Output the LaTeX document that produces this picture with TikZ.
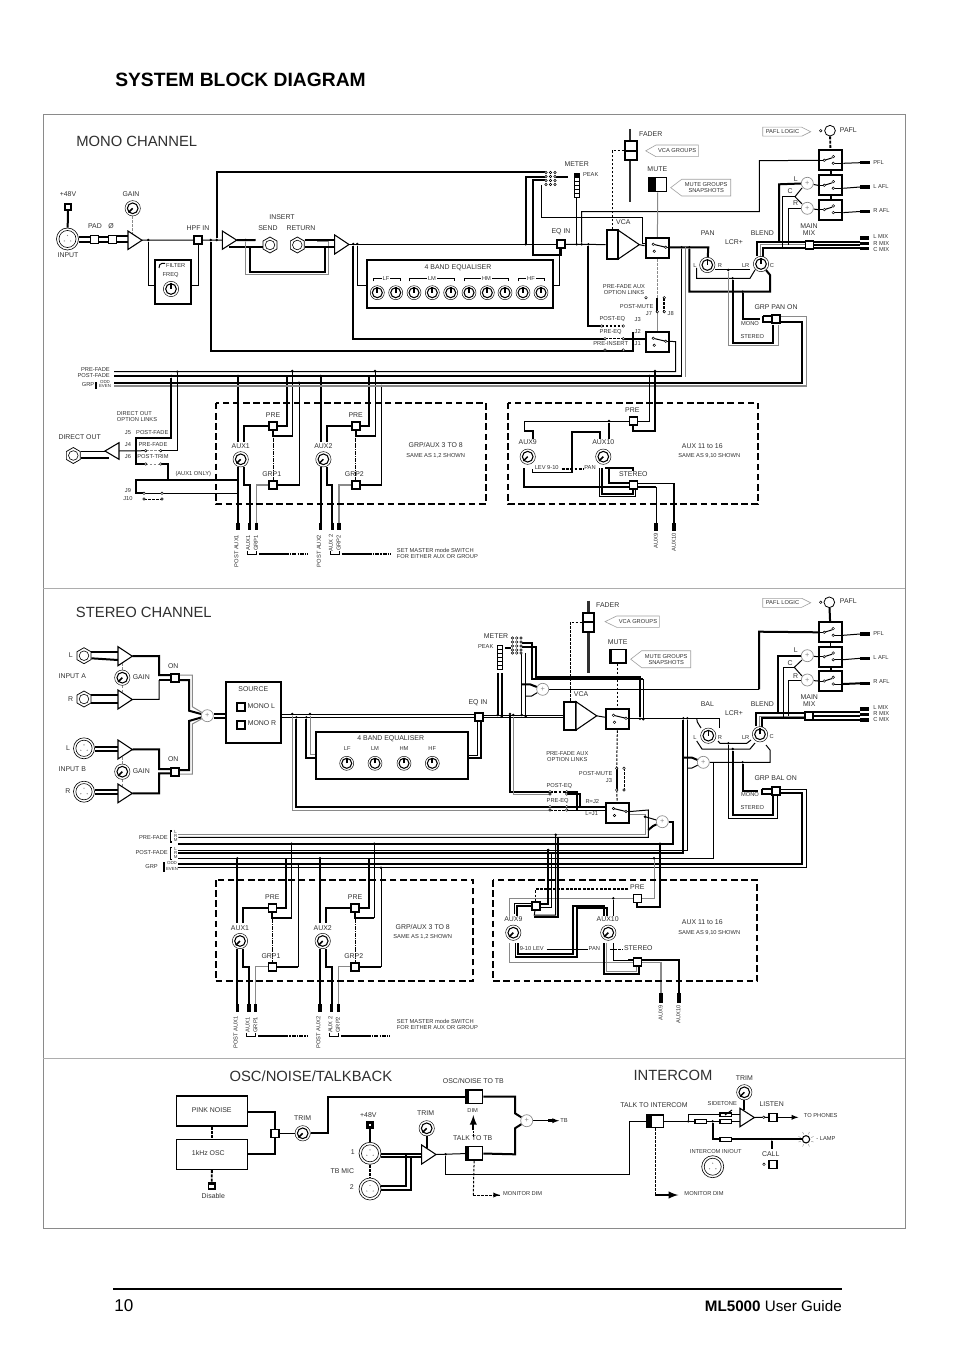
\documentclass[tikz,border=0pt]{standalone}
\usepackage{fontspec}
\setmainfont{Liberation Sans}
\usetikzlibrary{shapes.geometric,backgrounds,calc}
\newcounter{nn}
\definecolor{ink}{HTML}{303030}
\definecolor{wgrey}{HTML}{8A8A8A}
\tikzset{
 wt/.style={line width=1.5pt,line join=miter,line cap=butt},
 wm/.style={line width=.75pt,line join=miter},
 wn/.style={line width=.5pt,line join=miter},
 wg/.style={line width=.75pt,draw=wgrey,line join=miter},
 dsh/.style={line width=.75pt,dash pattern=on 2pt off 1pt},
 dshg/.style={line width=.6pt,draw=wgrey,dash pattern=on 2pt off 1pt},
 dsht/.style={line width=1.4pt,dash pattern=on 2.2pt off 1pt},
 box/.style={line width=1.5pt,dash pattern=on 5pt off 2.6pt},
 endj/.style={line width=2.6pt,line cap=butt},
 txs/.style={inner sep=0,text=ink,font=\fontsize{4.3}{4.7}\selectfont,align=center},
 txm/.style={inner sep=0,text=ink,font=\fontsize{5.2}{5.7}\selectfont,align=center},
 txt/.style={inner sep=0,text=ink,font=\fontsize{3.3}{3.6}\selectfont,align=center},
 txb/.style={inner sep=0,text=ink,font=\fontsize{11.1}{12}\selectfont},
 sqbtn/.style={draw,fill=white,line width=1.2pt,minimum size=6pt,inner sep=0},
 kout/.style={circle,draw,fill=white,line width=.35pt,minimum size=11.5pt,inner sep=0},
 kin/.style={circle,draw,line width=.8pt,minimum size=8pt,inner sep=0},
 sumr/.style={circle,draw=wgrey,fill=white,line width=.5pt,minimum size=9pt,inner sep=0,text=wgrey,font=\fontsize{5.5}{5.5}\selectfont},
 jd/.style={circle,fill=black,minimum size=2pt,inner sep=0},
 swbx/.style={draw,fill=white,line width=1.5pt,minimum width=17.5pt,minimum height=15pt,inner sep=0},
 pent/.style={draw=wgrey!80,line width=.45pt},
 blk/.style={draw,fill=white,line width=1.5pt,inner sep=0},
 res/.style={draw,fill=white,line width=1pt,minimum width=8.5pt,minimum height=2.8pt,inner sep=0},
}
% labels
\newcommand\Ls[3][]{\stepcounter{nn}\node[txs,#1] (l\arabic{nn}) at (#2) {#3};}
\newcommand\Lm[3][]{\stepcounter{nn}\node[txm,#1] (l\arabic{nn}) at (#2) {#3};}
\newcommand\Lt[3][]{\stepcounter{nn}\node[txt,#1] (l\arabic{nn}) at (#2) {#3};}
\newcommand\Lb[3][]{\stepcounter{nn}\node[txb,#1] (l\arabic{nn}) at (#2) {#3};}
% parts
\newcommand\SQ[2]{\node[sqbtn] (#1) at (#2) {};}
\newcommand\JD[2]{\node[jd] (#1) at (#2) {};}
\newcommand\KN[3]{\node[kout] (#1) at (#2) {};\node[kin] (#1i) at (#2) {};\draw[line width=1.1pt] (#1i.center) -- (#1i.#3);}
\newcommand\EK[3]{\node[kout,minimum size=10.5pt] (#1) at (#2) {};\node[kin,minimum size=7.5pt] (#1i) at (#2) {};\draw[line width=1.6pt] (#1i.center) -- (#1i.#3);}
\newcommand\XLR[3]{\node[circle,draw,fill=white,line width=.45pt,minimum size=#3*.75pt,inner sep=0] (#1) at (#2) {};
 \node[circle,draw,line width=.45pt,minimum size=#3*.58pt,inner sep=0] (#1i) at (#2) {};
 \fill[wgrey] ($(#1)+(0,-3.5)$) circle [radius=.7] ($(#1)+(-3.2,2)$) circle [radius=.7] ($(#1)+(3.2,2)$) circle [radius=.7];}
\newcommand\JK[2]{\node[regular polygon,regular polygon sides=6,regular polygon rotate=30,draw,fill=white,line width=.55pt,minimum size=12pt,inner sep=0] (#1) at (#2) {};
 \node[circle,draw,line width=.45pt,minimum size=7.2pt,inner sep=0] (#1i) at (#2) {};}
\newcommand\AMP[5]{\draw[line width=.8pt,fill=white,line join=miter] (#2,#3) -- (#2,#4) -- (#5,{(#3+#4)/2}) -- cycle;
 \coordinate (#1) at (#5,{(#3+#4)/2}); \coordinate (#1-in) at (#2,{(#3+#4)/2});}
\newcommand\OC[1]{\draw[line width=.35pt,fill=white] (#1) circle [radius=1.3];}
\newcommand\SWA[2]{\node[swbx] (#1) at (#2) {};
 \coordinate (#1-a) at ($(#1)+(-4,-4)$); \coordinate (#1-b) at ($(#1)+(-3,3)$); \coordinate (#1-o) at ($(#1)+(8.5,-1)$);
 \draw[wm] (#1-a) -- (#1-o); \draw[wm] (#1-o) -- (#1.east |- #1-o);\coordinate (#1-out) at (#1.east |- #1-o);
 \OC{#1-a}\OC{#1-b}\OC{#1-o}}
\newcommand\SWB[2]{\node[swbx] (#1) at (#2) {};
 \coordinate (#1-i) at ($(#1)+(-6.3,0)$); \coordinate (#1-u) at ($(#1)+(2.7,-3.7)$); \coordinate (#1-l) at ($(#1)+(2.7,3)$);
 \draw[wm] (#1-i) -- ++(8,-2.5); \draw[wm] (#1-l) -- (#1.east |- #1-l); \draw[wm] (#1-i) -- (#1.west |- #1-i);
 \coordinate (#1-out) at (#1.east |- #1-l);\coordinate (#1-in) at (#1.west |- #1-i);
 \OC{#1-i}\OC{#1-u}\OC{#1-l}}
\newcommand\BTN[5]{\node[draw,fill=white,line width=1.2pt,minimum width=#3*.75pt,minimum height=#4*.75pt,inner sep=0] (#1) at (#2) {};
 \fill ($(#1.north west)$) rectangle ($(#1.south west)+(#5,0)$);}
\newcommand\PL[7]{\draw[pent] (#2,{(#5+#6)/2}) -- (#3,#5) -- (#4,#5) -- (#4,#6) -- (#3,#6) -- cycle;
 \Ls{{(#3+#4)/2},{(#5+#6)/2}}{#7}\coordinate (#1) at (#2,{(#5+#6)/2});}
\newcommand\PR[2]{\draw[pent] (762.7,#1-4.5) -- (801.7,#1-4.5) -- (810.7,#1) -- (801.7,#1+4.5) -- (762.7,#1+4.5) -- cycle;
 \Ls{782.5,#1}{PAFL LOGIC}}
% aux strip (local coordinates of mono AUX1)
\newcommand\STRIP[8]{\begin{scope}[shift={(#2,#3)}]
 \KN{#1k}{240.7,459.3}{225}\Lm{240.7,446}{AUX#7}
 \SQ{#1p}{273,426}\Lm{273,415}{PRE}
 \SQ{#1g}{273,485}\Lm{271.7,474.3}{GRP#7}
 \Ls[rotate=90]{236.3,551}{POST AUX#7}\Ls[rotate=90]{248.3,543}{#8}\Ls[rotate=90]{256,543}{GRP#7}
 \coordinate (#1t1) at (238,441.5);\coordinate (#1t2) at (244,441.5);
 \begin{scope}[on background layer]
 \draw[wt] (238,#4) -- (#1t1);
 \JD{#1a}{238,#4}
 \draw[wt] (#1p) -- (244,426) -- (#1t2);
 \draw[wt] (#1p) -- (286.7,426) -- (286.7,#4);
 \draw[wt] (#1p.south) -- (273,436) -- (292.3,436);
 \draw[wm] (292.3,436.5) -- (292.3,#5);\JD{#1b}{292.3,#5}
 \draw[dsh,dash pattern=on 3pt off .7pt on .7pt off .7pt] (#1p) -- (#1g);
 \draw[wt] (#1g) -- (299,485);\draw[wm] (299,485.5) -- (299,#6);\JD{#1c}{299,#6}
 \draw[wg,line width=1pt] (#1g) -- (256.3,485) -- (256.3,526);
 \draw[wt] (#1k.south -| 244,0) -- (244,485) -- (249.7,485) -- (249.7,526);
 \draw[wt] (#1k.south -| 238,0) -- (238,526);
 \end{scope}
 \draw[endj] (238,522.7) -- (238,530);\draw[endj] (249.7,522.7) -- (249.7,530);\draw[endj] (256.3,522.7) -- (256.3,530);
 \draw[wm] (247.3,551) -- (247.3,554.3) -- (256.3,554.3) -- (256.3,551);
 \draw[wt] (259,554.3) -- (285,554.3);
 \draw[wt,dash pattern=on 3pt off .8pt on 1pt off .8pt] (285,554.3) -- (308,554.3);
\end{scope}}
\begin{document}
\begin{tikzpicture}[x=.75pt,y=-.75pt]
\useasboundingbox (0,0) rectangle (954,1351);
\begin{scope}[on background layer]
\fill[white] (0,0) rectangle (954,1351);
\draw[line width=.5pt,draw=wgrey] (43,114) rectangle (905,1228);
\draw[line width=.5pt,draw=wgrey!70] (43,588) -- (905,588) (43,1058) -- (905,1058);
\end{scope}
\stepcounter{nn}\node[anchor=west,inner sep=0,font=\fontsize{14.45}{15}\selectfont\bfseries] (title) at (115,80) {SYSTEM BLOCK DIAGRAM};
\draw[line width=1.3pt] (113,1289) -- (842,1289);
\node[anchor=west,inner sep=0,font=\fontsize{12.8}{13}\selectfont] (pg) at (114,1306) {10};
\node[anchor=east,inner sep=0,font=\fontsize{11.4}{12}\selectfont] (ug) at (842,1306) {\textbf{ML5000} User Guide};
\Lb[anchor=west]{76,141}{MONO CHANNEL}
\Lb[anchor=west]{75.7,612.3}{STEREO CHANNEL}
\Lb[anchor=west]{229.3,1075.7}{OSC/NOISE/TALKBACK}
\Lb[anchor=west]{633.3,1075.7}{INTERCOM}

%================= MONO ==================
\Lm{68,194}{+48V}\node[draw,fill=white,line width=1.3pt,minimum size=5pt,inner sep=0] (m48) at (68,207) {};
\XLR{mxlr}{67.5,239}{22}\Lm{68,255}{INPUT}
\SQ{mpad}{94.5,239.5}\Lm{95,226}{PAD}\SQ{mph}{112.5,239.5}\Lm{111,226}{Ø}
\AMP{mamp}{128}{231}{249.5}{142}
\KN{mgain}{132.7,208.3}{225}\Lm{131,194}{GAIN}
\SQ{mhpf}{198,240}\Lm{198,228}{HPF IN}
\node[blk,minimum width=26.8pt,minimum height=33pt] (mfilt) at (173,282) {};
\Ls{175.7,265.3}{FILTER}\Ls{170.7,275}{FREQ}\KN{mfreq}{171,289}{90}
\AMP{mamp2}{222.3}{231}{249.3}{236.7}
\JK{msend}{270,245}\JK{mret}{297.3,245}
\Lm{282,217}{INSERT}\Lm{268,228}{SEND}\Lm{301,228}{RETURN}
\AMP{mamp3}{334.7}{235}{254}{349}
\node[blk,minimum width=140pt,minimum height=36pt] (meq) at (460,284) {};
\Lm{458,268}{4 BAND EQUALISER}
\Ls{386,279}{LF}\Ls{432,279}{LM}\Ls{486.5,279}{HM}\Ls{531,279}{HF}
\foreach \i/\x in {1/377.3,2/395.7,3/414,4/432.3,5/450.7,6/469,7/487.3,8/505,9/523,10/541}{\EK{mek\i}{\x,292.7}{90}}
\draw[wm] (373,281.5) -- (373,279) -- (382,279) (390,279) -- (400,279) -- (400,281.5)
 (409.7,281.5) -- (409.7,279) -- (427,279) (437,279) -- (454.7,279) -- (454.7,281.5)
 (464.7,281.5) -- (464.7,279) -- (481,279) (492,279) -- (508.3,279) -- (508.3,281.5)
 (518,281.5) -- (518,279) -- (526,279) (536,279) -- (544,279) -- (544,281.5);
\SQ{meqin}{561,244.3}\Lm{561,231.7}{EQ IN}
% meter
\node[inner sep=0,minimum width=8.5pt,minimum height=10.5pt] (mmx) at (550.5,178.7) {};
\foreach \yy in {172.5,176.5,180.5,184.5}{\foreach \xx in {546,550.5,555}{\OC{\xx,\yy}}}
\Lm{576.7,164.3}{METER}\Ls{590.7,174.3}{PEAK}
\node[draw,fill=white,line width=.8pt,minimum width=3.8pt,minimum height=18pt,inner sep=0] (mled) at (576.7,185.3) {};
\foreach \yy in {177.3,181.3,185.3,189.3,193.3}{\draw[wm] (574.3,\yy) -- (579.1,\yy);}
\fill (574.3,173.3) rectangle (579.1,177.3);
% VCA
\node[blk,minimum width=8.7pt,minimum height=21.5pt] (mvca) at (612.5,244.6) {};
\AMP{mvcat}{618.3}{230.3}{259}{639.3}\Lm{623.3,222.3}{VCA}
\draw[line width=2.2pt,draw=ink] (630,129) -- (630,201.7);
\node[blk,minimum width=8.5pt,minimum height=14.5pt] (mfad) at (631,150.7) {};
\draw[wt] (mfad.west) -- (mfad.east);
\Lm{650.7,134.3}{FADER}
\PL{mvg}{645.7}{656}{698.3}{145}{156.7}{VCA GROUPS}
\Lm{657.3,169.3}{MUTE}\BTN{mmute}{657.8,184.7}{17.6}{14}{8}
\PL{mmg}{670.7}{681.7}{730.7}{179.3}{196}{MUTE GROUPS\\SNAPSHOTS}
\SWA{msw1}{657.3,248.3}\SWA{msw2}{657.3,342.3}
\Lm{707.7,233.3}{PAN}\Lm{734,241.7}{LCR+}\Lm{762.3,233.3}{BLEND}
\KN{mpan}{707.3,265}{90}\KN{mbl}{761,264}{90}
\Ls{695,265.7}{L}\Ls{720,265.7}{R}\Ls{745.7,265.7}{LR}\Ls{772,265.7}{C}
\SQ{mgpan}{775.7,319.3}\Lm{776,307.3}{GRP PAN ON}\Ls{750,323.7}{MONO}\Ls{752.3,336.7}{STEREO}
\SQ{mmix}{809.3,245}\Lm{809,229.5}{MAIN\\MIX}
\SWB{mpfl}{830.6,160.3}\SWB{mlafl}{830.6,185.3}\SWB{mrafl}{830.6,209.6}
\node[circle,draw,line width=.6pt,minimum size=8pt,inner sep=0] (mpafl) at (830,130.7) {};\OC{820.7,130.7}
\Lm{848.3,130}{PAFL}\PR{131.7}{}
\node[sumr] (msl) at (807.3,183.3) {+};\node[sumr] (msr) at (807.3,208.3) {+};
\Lm{795.7,179}{L}\Lm{790,191}{C}\Lm{795.7,203.3}{R}
\Ls[anchor=west]{873,162.3}{PFL}\Ls[anchor=west]{873,186.7}{L AFL}\Ls[anchor=west]{873,211}{R AFL}
\Ls[anchor=west]{873,236.7}{L MIX}\Ls[anchor=west]{873,243.3}{R MIX}\Ls[anchor=west]{873,249.3}{C MIX}
\Ls{624,289.5}{PRE-FADE AUX\\OPTION LINKS}\Ls{636.7,306.7}{POST-MUTE}
\Ls{649,314}{J7}\Ls{670.7,314}{J8}\Ls{612.3,319.3}{POST-EQ}\Ls{637.7,319.3}{J3}
\Ls{610.7,331.7}{PRE-EQ}\Ls{637.7,331.7}{J2}\Ls{610.7,344}{PRE-INSERT}\Ls{637.7,343.3}{J1}
\Ls[anchor=east]{110,369.3}{PRE-FADE}\Ls[anchor=east]{110,375.7}{POST-FADE}\Ls[anchor=east]{94.5,385}{GRP}
\Lt{105,382}{ODD}\Lt{105,386}{EVEN}
\Ls[anchor=west]{116.7,416.3}{\parbox{40pt}{DIRECT OUT\\OPTION LINKS}}
\Lm{79.7,437.3}{DIRECT OUT}
\Ls{128,432.3}{J5}\Ls{152.3,432.3}{POST-FADE}\Ls{128,445}{J4}\Ls{153,445}{PRE-FADE}
\Ls{128,456.7}{J6}\Ls{153,456.7}{POST-TRIM}\Ls{128,491}{J9}\Ls{128,499}{J10}\Ls{193.3,474}{(AUX1 ONLY)}
\JK{mdir}{73.3,455.5}\AMP{mda}{119}{442.7}{459.3}{105}
\Lm{435.7,445}{GRP/AUX 3 TO 8}\Ls{435.7,455.7}{SAME AS 1,2 SHOWN}
\Ls[anchor=west]{396.7,553.3}{\parbox{90pt}{SET MASTER mode SWITCH\\FOR EITHER AUX OR GROUP}}
\STRIP{ma}{0}{0}{376}{371}{382.7}{1}{AUX1}
\STRIP{mb}{82.7}{0}{376}{371}{386}{2}{AUX 2}
\draw[box] (215.7,402.7) rectangle (485.7,504.3);
\draw[box] (508.3,402.7) rectangle (757.7,504.3);
% aux 9/10
\Lm{632.3,410}{PRE}\SQ{mpre9}{633.3,421}
\KN{mk9}{527.7,456.7}{225}\Lm{527.7,442.3}{AUX9}\KN{mk10}{603.3,456.7}{225}\Lm{603.3,442.3}{AUX10}
\Ls{546.7,467.7}{LEV 9-10}\Ls{590,467.7}{PAN}\Lm{633.3,474.3}{STEREO}\SQ{mst}{633.3,485}
\Ls[rotate=90]{656,541}{AUX9}\Ls[rotate=90]{674,542.7}{AUX10}
\Lm{702.3,445.7}{AUX 11 to 16}\Ls{709.3,455.7}{SAME AS 9,10 SHOWN}
\draw[endj] (656,523) -- (656,531) (674,523) -- (674,531);
\draw[endj] (860,162.7) -- (870,162.7) (860,187) -- (870,187) (860,211.5) -- (870,211.5);
\draw[endj] (860,238) -- (869,238) (860,243.5) -- (869,243.5) (860,248.5) -- (869,248.5);
\OC{646,297.7}\OC{664.3,297.7}\OC{657.3,311.7}\OC{664.3,311.7}
\OC{601.7,326}\OC{623.3,326}\OC{605,338.7}\OC{623.3,338.7}\OC{605,350}\OC{623.3,350}
\OC{144,493.3}\OC{162,493.3}\OC{144,499}\OC{162,499}\OC{145.7,450.7}\OC{160.7,450.7}\OC{145.7,464}\OC{160.7,464}

\begin{scope}[on background layer]
\draw[wt] (m48) -- (mxlr);
\draw[wt] (mxlr.east |- 0,237.5) -- (mpad.west |- 0,237.5) (mxlr.east |- 0,241.7) -- (mpad.west |- 0,241.7);
\draw[wt] (mpad.east |- 0,237.5) -- (mph.west |- 0,237.5) (mpad.east |- 0,241.7) -- (mph.west |- 0,241.7);
\draw[wt] (mph.east |- 0,236.5) -- (128,236.5) (mph.east |- 0,242) -- (128,242);
\draw[dshg] (mgain) -- (132.7,234);
\draw[wm] (mamp) -- (mhpf);\JD{mj1}{148.3,240}
\draw[wm] (mj1) |- (mfilt.west |- 0,286);
\draw[wm] (mfilt.east |- 0,286) -| (mhpf);
\draw[wm] (mhpf) -- (mamp2-in);\JD{mj2}{210.7,240}\JD{mj2b}{216.7,240}
\draw[wt] (mj2) -- (210.7,350.7) -- (632.7,350.7) -- (632.7,331.7);
\draw[wt] (mj2b) -- (216.7,172.3) -- (mmx.west |- 0,172.3);
\draw[wt] (mamp2) -- (255.7,240);\draw[wt] (229,247.3) -- (msend.west |- 0,247.3);
\JD{mj3}{245.7,240}
\draw[wg] (mj3) -- (245.7,275) -- (328.3,275) -- (328.3,241.7) -- (317,241.7);
\draw[wt] (249.7,247.3) -- (249.7,271.7) -- (325,271.7) -- (325,247.3);
\draw[wt] (mret.east |- 0,240.5) -- (mamp3-in |- 0,240.5);
\draw[wt] (mret.east |- 0,247.3) -- (mamp3-in |- 0,247.3);
\draw[wm] (mamp3) -- (meqin.west |- mamp3);
\JD{mj4}{353.3,244}\JD{mj5}{357.3,244}
\draw[wt] (mj4) -- (353.3,338.7) -- (605,338.7);
\draw[dsh] (605,338.7) -- (623.3,338.7);
\draw[wt] (623.3,338.7) -- (msw2.west |- 0,338.7);
\draw[wm] (mj5) |- (meq.west |- 0,286);
\draw[wm] (meq.east |- 0,286) -| (meqin.south -| 559.7,0);
\draw[wt] (meqin.south) -- (561,255) -- (533.3,255) -- (533.3,180) -- (mmx.west |- 0,180);
\draw[wt] (525.7,244.3) -- (525.7,176.7) -- (mmx.west |- 0,176.7);
\JD{mj6}{525.7,244.3}
\draw[wm] (541,185) -- (541,217.7) -- (642.3,217.7) -- (642.3,243.3) -- (msw1.west |- 0,243.3);
\draw[wt] (mmx.east |- 0,176.7) -- (568,176.7);
\draw[wm] (meqin) -- (mvca);
\draw[wm] (mled.south) -- (576.7,244.3);\JD{mj7}{576.7,244.3}
\JD{mj8}{581.7,244.3}\JD{mj9}{588.3,244.3}
\draw[wm] (mj8) -- (581.7,211.7) -- (759.3,211.7) -- (759.3,160.7) -- (mpfl-in);
\draw[wt] (mj9) -- (588.3,326) -- (601.7,326);
\draw[dsh,line width=1.2pt] (601.7,326) -- (623.3,326);
\draw[dsh] (mvca.north -| 612.3,0) -- (612.3,150.7) -- (mfad.west);
\draw[wm] (mvcat) -- (msw1);
\draw[wg] (mmute) -- (msw1);
\draw[dshg] (msw1) -- (657.3,297.7);\draw[wg] (657.3,311.7) -- (msw2);
\draw[wt] (657.3,297.7) -- (657.3,311.7);\draw[dsht] (664.3,297.7) -- (664.3,311.7);
\draw[wt] (msw1-out) -- (708.3,247.3) -- (mpan);
\JD{mj10}{681.7,247.3}\JD{mj11}{689.3,247.3}
\draw[wt] (mj11) -- (689.3,291.7) -- (770,291.7) -- (770,275) -- (mbl);
\JD{mj12}{742.7,291.7}
\draw[wt] (mj12) -- (742.7,319.3) -- (760,319.3);
\draw[wt] (763,316.5) -- (mgpan.west |- 0,316.5) (763,316.5) -- (763,322) -- (mgpan.west |- 0,322);
\draw[wm] (mj10) -- (681.7,376.7);
\draw[wg] (685.7,247.3) -- (685.7,376.7);
% pan lines
\draw[wm] (696.7,268) -- (696.7,278.3) -- (750,278.3) -- (755,270);
\draw[wm] (mpan.east |- 0,270) -- (750,270);
\JD{mj13}{728.3,270}\JD{mj14}{732.7,278.3}
\draw[wg] (mj13) -- (728.3,346) -- (778.3,346) -- (778.3,325);
\draw[wt] (mj14) -- (732.7,342.7) -- (772.7,342.7) -- (772.7,325);
\draw[wt] (mgpan.east |- 0,321.7) -- (801.7,321.7) -- (801.7,382.7) -- (114,382.7);
\draw[wg] (mgpan.east |- 0,316.7) -- (806,316.7) -- (806,386) -- (114,386);
\draw[wm] (114,371.7) -- (675.7,371.7) -- (675.7,341.7) -- (msw2-out);
\draw[wt] (114,376.5) -- (681.7,376.5);
% blend
\draw[wt] (mbl.north -| 756.7,0) -- (756.7,242.3) -- (mmix.west |- 0,242.3);
\draw[wg] (760,258) -- (760,245) -- (mmix.west |- 0,245);
\draw[wt] (763.3,258) -- (763.3,248.3) -- (mmix.west |- 0,248.3);
\draw[wt] (mmix.east |- 0,241.7) -- (860,241.7) (mmix.east |- 0,245) -- (860,245) (mmix.east |- 0,248.3) -- (860,248.3);
\draw[dsht] (mpafl) -- (mpfl);\draw[dsht] (mpfl) -- (mlafl);\draw[dsht] (mlafl) -- (mrafl);
\draw[wt] (msl) -- (779,184.3) -- (779,242.3);
\draw[wm] (msr) -- (788.3,208.3) -- (788.3,245);
\draw[wm] (mlafl-in) -- (msl);\draw[wm] (mrafl-in) -- (msr);
\draw[wm] (802,188) -- (795,196.7) -- (802,204);
\draw[wm] (795,196.7) -- (782.3,196.7) -- (782.3,248.3);
\draw[wm] (mpfl-out) -- (860,162.7) (mlafl-out) -- (860,187) (mrafl-out) -- (860,211.5);
% direct out
\JD{mja}{171.3,376}\JD{mjb}{177.3,371.7}
\draw[wt] (mja) -- (171.3,437.5) -- (136,437.5) -- (136,464) -- (145.7,464);
\draw[dshg] (145.7,464) -- (160.7,464);
\draw[wt] (160.7,464) -- (167.5,464) -- (167.5,480);
\draw[wm] (mjb) -- (177.3,450.7) -- (160.7,450.7);\draw[dshg] (160.7,450.7) -- (145.7,450.7);
\draw[wm] (145.7,450.7) -- (mda-in);
\draw[wt] (238,480) -- (136,480) -- (136,493.3) -- (145,493.3);
\draw[wm] (145,493.3) -- (238,493.3);
\draw[dsh] (144,499) -- (162,499);
\draw[wm] (mdir.east |- 0,451.7) -- (105,451.7);
\draw[wt] (mdir.east |- 0,458.3) -- (109,458.3);
% aux9/10
\draw[wm] (mpre9) -- (524,421) -- (524,431);
\draw[wt] (524,431) -- (533.3,431) -- (533.3,439);
\draw[wm] (mpre9) -- (649.3,421) -- (649.3,376);\JD{mjc}{649.3,376}
\draw[wt] (mpre9.south) -- (633.3,430.7) -- (655,430.7) -- (655,371);\JD{mjd}{655,371}
\JD{mje}{609,421}\draw[wt] (mje) -- (609,439);
\draw[wm] (532.7,469) -- (532.7,472.7) -- (571.7,472.7);
\draw[wt] (571.7,472.7) -- (571.7,431.7) -- (600,431.7) -- (600,439);
\draw[dsht] (561.7,469) -- (584,469);
\draw[wt] (524,468) -- (524,486.7) -- (mst.west |- 0,486.7);
\draw[wm] (599.3,468) -- (599.3,496.7) -- (635,496.7) -- (635,490);
\draw[wt] (602.3,468) -- (602.3,494) -- (632.7,494) -- (632.7,490);
\draw[wt] (605,468.3) -- (633.3,468.3) -- (633.3,471);
\draw[wt] (609,468) -- (609,483.3) -- (mst.west |- 0,483.3);
\draw[wm] (mst.east |- 0,483.3) -- (674,483.3);\draw[wt] (674,483.3) -- (674,523);
\draw[wt] (mst.east |- 0,486.7) -- (656,486.7);\draw[wm] (656,486.7) -- (656,523);
\end{scope}
% filter hook
\draw[wm] (159,268) to[out=90,in=180] (162,263.3) -- (165,263.3);
\draw[wt,line width=1.3pt] (97.3,382.7) -- (95.8,382.7) -- (95.8,388.3) -- (97.3,388.3);

%================= STEREO ==================
\JK{sja}{84,655.7}\JK{sjb}{84,699}
\Lm{70.7,655}{L}\Lm{70.7,699}{R}\Lm{72.3,676}{INPUT A}\Lm{72.3,769}{INPUT B}
\XLR{sxa}{84,748.3}{21}\XLR{sxb}{84,791.7}{21}\Lm{68,748.5}{L}\Lm{68,791.5}{R}
\AMP{sa1}{118}{646.7}{665.7}{132.3}\AMP{sa2}{118}{690}{709}{132.3}
\AMP{sa3}{118}{740}{759}{132.3}\AMP{sa4}{118}{784}{802.7}{132.3}
\KN{sg1}{122.3,677.7}{225}\Lm{141.3,677.3}{GAIN}\KN{sg2}{122.3,771.7}{225}\Lm{141.3,771.3}{GAIN}
\SQ{son1}{174.7,677.7}\Lm{173.3,665.7}{ON}\SQ{son2}{174.7,771.7}\Lm{173.3,759.3}{ON}
\node[sumr] (ssm) at (207.3,715.7) {+};
\node[blk,minimum width=41.7pt,minimum height=45.7pt] (ssrc) at (253.5,712.2) {};
\Lm{253.3,689.3}{SOURCE}\SQ{sml}{240.7,706.7}\SQ{smr}{240.7,725}
\Lm{261.3,706.3}{MONO L}\Lm{262,723.3}{MONO R}
\node[blk,minimum width=114.5pt,minimum height=35.7pt] (seq) at (392,755.5) {};
\Lm{390.7,738.3}{4 BAND EQUALISER}
\Ls{347.3,749}{LF}\Ls{375,749}{LM}\Ls{404,749}{HM}\Ls{432.3,749}{HF}
\foreach \i/\x in {1/346.7,2/375,3/404,4/432.3}{\EK{sek\i}{\x,763.3}{90}}
\SQ{seqin}{479,716.7}\Lm{478,702.7}{EQ IN}
\Lm{496,635.7}{METER}\Ls{485.7,646.7}{PEAK}
\node[draw,fill=white,line width=.8pt,minimum width=3.8pt,minimum height=18pt,inner sep=0] (sled) at (499.8,657.2) {};
\foreach \yy in {649,653,657,661,665}{\draw[wm] (497.4,\yy) -- (502.2,\yy);}
\node[inner sep=0,minimum width=7.5pt,minimum height=12pt] (smx) at (516.7,645.3) {};
\foreach \yy in {638,642,646,650,653}{\foreach \xx in {512.5,516.7,521}{\OC{\xx,\yy}}}
\node[sumr] (ssm2) at (542.7,689.3) {+};
\node[blk,minimum width=9pt,minimum height=21.3pt] (svca) at (570,715.8) {};
\AMP{svcat}{576}{701.7}{730}{596.7}\Lm{581,694.3}{VCA}
\draw[line width=2.2pt,draw=ink] (588.3,600.7) -- (588.3,673.3);
\node[blk,minimum width=8.5pt,minimum height=14.5pt] (sfad) at (588.5,622.3) {};
\draw[wt] (sfad.west) -- (sfad.east);\Lm{607.7,605}{FADER}
\PL{svg}{605}{616.7}{659.3}{616}{627.3}{VCA GROUPS}
\Lm{617.7,641.7}{MUTE}\BTN{smute}{617.5,656}{16.4}{13.4}{3.5}
\PL{smg}{630.7}{641.7}{690.7}{650.7}{667.7}{MUTE GROUPS\\SNAPSHOTS}
\SWA{ssw1}{617.5,719.3}\SWA{ssw2}{617.5,812.5}
\Lm{707.3,704.3}{BAL}\Lm{734,712.7}{LCR+}\Lm{762.3,704.3}{BLEND}
\KN{sbal}{708.3,735.7}{90}\KN{sbl}{760,734.3}{90}
\Ls{695,737.3}{L}\Ls{720,737.3}{R}\Ls{745.7,737.3}{LR}\Ls{771.7,736.7}{C}
\node[sumr] (ssm3) at (703.3,762.3) {+};\node[sumr] (ssm4) at (662.3,821.7) {+};
\SQ{sgb}{775.7,791}\Lm{775.7,778.3}{GRP BAL ON}\Ls{750,795}{MONO}\Ls{752.3,807.3}{STEREO}
\SQ{smix}{809,716}\Lm{809.3,700.5}{MAIN\\MIX}
\SWB{spfl}{830.5,632.3}\SWB{slafl}{830.5,656.7}\SWB{srafl}{830.5,681}
\node[circle,draw,line width=.6pt,minimum size=8pt,inner sep=0] (spafl) at (829.3,602.3) {};\OC{820.7,602.3}
\Lm{848.3,601}{PAFL}\PR{602.8}{}
\node[sumr] (ssl) at (807.3,655.7) {+};\node[sumr] (ssr) at (807.3,680) {+};
\Lm{795.7,650}{L}\Lm{790,663.3}{C}\Lm{795.7,675.7}{R}
\Ls[anchor=west]{873,634}{PFL}\Ls[anchor=west]{873,657.7}{L AFL}\Ls[anchor=west]{873,682}{R AFL}
\Ls[anchor=west]{873,707.7}{L MIX}\Ls[anchor=west]{873,714}{R MIX}\Ls[anchor=west]{873,720}{C MIX}
\draw[endj] (860,634) -- (870,634) (860,658.3) -- (870,658.3) (860,683.3) -- (870,683.3);
\draw[endj] (860,709) -- (869,709) (860,714.5) -- (869,714.5) (860,720) -- (869,720);
\Ls{567.3,756.3}{PRE-FADE AUX\\OPTION LINKS}\Ls{595.7,774}{POST-MUTE}\Ls{609,780.7}{J3}
\Ls{559.3,785.7}{POST-EQ}\Ls{557.7,801}{PRE-EQ}\Ls{592.3,801.7}{R=J2}\Ls{591.7,814}{L=J1}
\Ls[anchor=east]{168,837.3}{PRE-FADE}\Ls[anchor=east]{168,852.7}{POST-FADE}\Ls[anchor=east]{158,866.7}{GRP}
\Lt{175.7,832}{L}\Lt{175.7,836}{R}\Lt{175.7,840}{M}\Lt{175.7,849}{L}\Lt{175.7,853}{R}\Lt{175.7,857}{M}
\Lt{172,863.3}{ODD}\Lt{172,869}{EVEN}
\draw[wm,line width=1pt] (172,831) -- (170.5,831) -- (170.5,842) -- (172,842) (172,847.5) -- (170.5,847.5) -- (170.5,859.5) -- (172,859.5);
\draw[wt] (165,863) -- (163.5,863) -- (163.5,871) -- (165,871);
\STRIP{sa}{-0.7}{481.7}{376.6}{362}{382.6}{1}{AUX1}
\STRIP{sb}{82}{481.7}{376.6}{362}{386}{2}{AUX 2}
\Lm{422.7,926.7}{GRP/AUX 3 TO 8}\Ls{422.7,936.7}{SAME AS 1,2 SHOWN}
\Ls[anchor=west]{396.7,1024.5}{\parbox{90pt}{SET MASTER mode SWITCH\\FOR EITHER AUX OR GROUP}}
\draw[box] (215.7,880) rectangle (473.3,981.3);
\draw[box] (493.3,880) rectangle (757.3,981.3);
\Lm{637.3,887.3}{PRE}\SQ{spre9}{637.3,898.3}\SQ{sq9}{535.7,905.7}
\KN{sk9}{513.3,932.7}{225}\Lm{513.3,919.3}{AUX9}\KN{sk10}{608.3,932.7}{225}\Lm{607.7,919.3}{AUX10}
\Ls{531.7,949}{9-10 LEV}\Ls{594.3,949}{PAN}\Lm{638.3,948.3}{STEREO}\SQ{sst}{637.3,961.7}
\Ls[rotate=90]{660.7,1012.7}{AUX9}\Ls[rotate=90]{678.3,1014.3}{AUX10}
\Lm{702.3,922.3}{AUX 11 to 16}\Ls{709.3,932.7}{SAME AS 9,10 SHOWN}
\draw[endj] (661,993) -- (661,1003) (679,993) -- (679,1003);
\OC{550,791.7}\OC{566.7,791.7}\OC{550,794}\OC{566.7,794}\OC{550,806.7}\OC{566.7,806.7}\OC{550,810}\OC{566.7,810}
\OC{616.7,768.3}\OC{624,768.3}\OC{616.7,790}\OC{624,790}

\begin{scope}[on background layer]
\draw[wt] (sja.east |- 0,651.7) -- (118,651.7);\draw[wt] (sja.east |- 0,658.3) -- (118,660);
\draw[wt] (sjb.east |- 0,695) -- (118,695);\draw[wt] (sjb.east |- 0,702.7) -- (118,702.7);
\draw[wt] (sxa.east |- 0,746.7) -- (118,746.7) (sxa.east |- 0,750.7) -- (118,750.7);
\draw[wt] (sxb.east |- 0,790) -- (118,790) (sxb.east |- 0,794) -- (118,794);
\draw[dshg] (sg1) -- (122.3,662);\draw[dshg] (sg1) -- (122.3,693);
\draw[dshg] (sg2) -- (122.3,755);\draw[dshg] (sg2) -- (122.3,787);
\draw[wt] (sa1) -- (159,656) -- (159,675) -- (son1.west |- 0,675);
\draw[wm] (sa2) -- (159,699.3) -- (159,680);\draw[wt] (159,680) -- (son1.west |- 0,680);
\draw[wt] (sa3) -- (159,749.3) -- (159,769) -- (son2.west |- 0,769);
\draw[wt] (sa4) -- (159,793.3) -- (159,773.3) -- (son2.west |- 0,773.3);
\draw[wg] (son1.east |- 0,675) -- (192.3,675) -- (192.3,706.7) -- (ssm);
\draw[wt] (son1.east |- 0,680) -- (189,680) -- (189,710.7) -- (ssm);
\draw[wt] (son2.east |- 0,770) -- (189,770) -- (189,721) -- (ssm);
\draw[wg] (son2.east |- 0,774) -- (192.3,774) -- (192.3,724) -- (ssm);
\draw[wt] (ssm.east |- 0,713.5) -- (ssrc.west |- 0,713.5) (ssm.east |- 0,718.3) -- (ssrc.west |- 0,718.3);
\draw[wm] (ssrc.east |- 0,714) -- (seqin.west |- 0,714) (ssrc.east |- 0,717.3) -- (seqin.west |- 0,717.3);
\JD{sj1}{292.3,714}\JD{sj2}{296.3,717.3}\JD{sj3}{306.3,717.3}\JD{sj4}{310,714}
\draw[wg] (sj1) -- (292.3,810) -- (550,810);
\draw[wt] (sj2) -- (296.3,806.7) -- (550,806.7);
\draw[wt] (sj3) -- (306.3,757.7) -- (seq.west |- 0,757.7);
\draw[wg] (sj4) -- (310,754.3) -- (seq.west |- 0,754.3);
\draw[wm] (seq.east |- 0,755) -- (477.3,755) -- (477.3,721);
\draw[wt] (seq.east |- 0,758.3) -- (481.3,758.3) -- (481.3,721);
\draw[wm] (seqin.east |- 0,715) -- (svca.west |- 0,715) (seqin.east |- 0,717.7) -- (svca.west |- 0,717.7);
\draw[wt] (497.7,673.3) -- (497.7,715) (501.7,673.3) -- (501.7,717);
\JD{sj5}{497.7,715}\JD{sj6}{501.7,716.7}
\draw[wt] (505,648.3) -- (smx.west |- 0,648.3);
\draw[wm] (smx.east |- 0,642.7) -- (531.7,642.7) -- (531.7,679.3) -- (643.3,679.3) -- (643.3,719.3);
\draw[wt] (smx.east |- 0,642.7) -- (531.7,642.7) -- (531.7,679.3) -- (643.3,679.3);
\draw[wt] (smx.east |- 0,646.7) -- (535.7,646.7) -- (535.7,677.3) -- (640,677.3) -- (640,716.7);
\JD{sj7}{643.3,719.3}\JD{sj8}{640,718.7}
\draw[wm] (521.7,653) -- (521.7,715);\draw[wm] (525.7,653) -- (525.7,716.7);
\JD{sj9}{521.7,715}\JD{sj10}{525.7,716.7}
\draw[wt] (521.7,684.3) -- (530,684.3) -- (ssm2);
\draw[wm] (525.7,696) -- (531.7,696) -- (ssm2);
\draw[wm] (ssm2) -- (759,689.3);\draw[wt] (759,689.3) -- (759,631.7) -- (spfl-in);
\JD{sj11}{510,714}\JD{sj12}{513.3,715}
\draw[wt] (sj11) -- (510,791.7) -- (550,791.7);
\draw[wg] (sj12) -- (513.3,794) -- (550,794);
\draw[dsht] (550,791.7) -- (566.7,791.7);
\draw[wt] (566.7,791.7) -- (576.7,791.7) -- (576.7,810);
\draw[wt] (566.7,794) -- (580,794) -- (580,806.7);
\draw[wt] (550,806.7) -- (566.7,806.7);\draw[dsh] (550,810) -- (566.7,810);
\draw[wt] (566.7,806.7) -- (ssw2.west |- 0,806.7);
\draw[wm] (566.7,810) -- (ssw2.west |- 0,810);
\draw[dsh] (svca.north -| 570,0) -- (570,622.3) -- (sfad.west);
\draw[wm] (svcat) -- (ssw1);
\draw[dsh] (smute) -- (ssw1);
\draw[dsh] (ssw1) -- (616.7,768.3);\draw[wt] (616.7,768.3) -- (616.7,790);\draw[dsh] (616.7,790) -- (ssw2);
\draw[dsh] (624,768.3) -- (624,790);
\draw[wm] (ssw1-out) -- (683.3,718.3) -- (719.3,718.3) -- (719.3,728.3);
\draw[wm] (696.7,718.3) -- (697.3,722) -- (701,728);
\JD{sj13}{683.3,718.3}\JD{sj14}{687.3,718.3}
\draw[wt] (sj13) -- (683.3,852.7) -- (178.3,852.7);
\draw[wm] (sj14) -- (687.3,850) -- (178.3,850);
\draw[wt] (683.3,757.7) -- (692,757.7) -- (ssm3);
\draw[wm] (687.3,768) -- (692,768) -- (ssm3);
\draw[wm] (ssm3) -- (770,762.3) -- (770,750) -- (766,745);
\JD{sj15}{742.7,762.3}
\draw[wt] (sj15) -- (742.7,790.7) -- (758,790.7);
\draw[wt] (761.7,788.5) -- (sgb.west |- 0,788.5) (761.7,788.5) -- (761.7,793.5) -- (sgb.west |- 0,793.5);
\draw[wm] (713.3,762.3) -- (713.3,858.3) -- (178.3,858.3);
% bal lines
\draw[wm] (696.7,741) -- (702,749) -- (750,749) -- (755,743);
\draw[wm] (718,741) -- (720,743.3) -- (746.7,743.3) -- (751,740);
\JD{sj16}{728.3,743.3}\JD{sj17}{732.7,749}
\draw[wm] (sj16) -- (728.3,818.3) -- (777.3,818.3) -- (777.3,796);
\draw[wt] (sj17) -- (732.7,815) -- (773.3,815) -- (773.3,796);
\draw[wt] (sgb.east |- 0,792.7) -- (801.7,792.7) -- (801.7,864.3) -- (178.3,864.3);
\draw[wm] (sgb.east |- 0,789) -- (806.7,789) -- (806.7,867.7) -- (178.3,867.7);
\draw[wg] (178.3,834.7) -- (645,834.7) -- (645,814) -- (ssw2.east |- 0,814);
\draw[wm] (178.3,837.3) -- (648.3,837.3) -- (648.3,810) -- (ssw2-out);
\JD{sj18}{645,816.7}
\draw[wm] (645,816.7) -- (ssm4);
\draw[wt] (648.3,830) -- (653,826) -- (ssm4);
\draw[wt] (ssm4) -- (673.3,821.7) -- (673.3,843.7) -- (178.3,843.7);
% blend
\draw[wt] (sbl.north -| 756,0) -- (756,713.3) -- (smix.west |- 0,713.3);
\draw[wg] (759,729) -- (759,716) -- (smix.west |- 0,716);
\draw[wt] (762.3,729) -- (762.3,718.3) -- (smix.west |- 0,718.3);
\draw[wt] (smix.east |- 0,712) -- (860,712) (smix.east |- 0,716) -- (860,716) (smix.east |- 0,720) -- (860,720);
\draw[wt] (spafl) -- (spfl);\draw[dsht] (spfl) -- (slafl);\draw[wt] (slafl) -- (srafl);
\draw[wt] (ssl) -- (778.3,655.7) -- (778.3,713.3);
\draw[wm] (ssr) -- (788.3,680) -- (788.3,716);
\draw[wm] (slafl-in) -- (ssl);\draw[wm] (srafl-in) -- (ssr);
\draw[wm] (802,660) -- (794.3,667.3) -- (802,676);
\draw[wm] (794.3,667.3) -- (783.3,667.3) -- (783.3,718.3);
\draw[wm] (spfl-out) -- (860,634) (slafl-out) -- (860,658.3);\draw[wt] (srafl-out) -- (860,683.3);
% aux 9/10
\draw[dsht,line width=1.1pt] (628.3,889) -- (535.7,889) -- (sq9.north);
\draw[wg] (spre9) -- (509,898.3) -- (509,916);
\JD{sj19}{613.3,898.3}\draw[wm] (sj19) -- (613.3,916);
\draw[wg] (spre9) -- (654,898.3) -- (654,858.3);\JD{sj20}{654,858.3}
\draw[wt] (spre9.south) -- (637.3,907.3) -- (660,907.3) -- (660,843.7);\JD{sj21}{660,843.7}
\draw[wt] (sq9.east |- 0,904) -- (548.3,904) -- (548.3,848.5);\JD{sj22}{548.3,850}
\draw[wm] (sq9.east |- 0,907) -- (551,907) -- (551,852.7);
\draw[wm] (535,910) -- (534.3,915) -- (555.7,915) -- (555.7,834.7);\JD{sj23}{555.7,834.7}
\draw[wt] (534.3,917.3) -- (558.3,917.3) -- (558.3,837.3);
\draw[wt] (sq9.west |- 0,906) -- (516.7,906) -- (516.7,916);
\draw[wm] (sq9.west |- 0,903.7) -- (514,903.7) -- (514,914);
\draw[wm] (515,943.3) -- (515,957.3);\draw[wt] (515,957.3) -- (576.7,957.3) -- (576.7,908.3) -- (607.3,908.3) -- (607.3,916);
\draw[wt] (518.3,943.3) -- (518.3,954) -- (573.3,954) -- (573.3,906) -- (604,906) -- (604,916);
\draw[wm] (546.7,949) -- (588.3,949);\draw[dsh] (610,949) -- (623.3,949);
\draw[wg] (509,943.3) -- (509,962.7) -- (sst.west |- 0,962.7);
\draw[wt] (604,943.3) -- (604,974) -- (639,974) -- (639,966);
\draw[wg] (606.7,943.3) -- (606.7,971.7) -- (636.7,971.7) -- (636.7,966);
\draw[wm] (613.3,943.3) -- (613.3,960) -- (628,960);\draw[wt] (628,960) -- (sst.west |- 0,960);
\draw[wt] (sst.east |- 0,960) -- (679,960) -- (679,993);
\draw[wg,line width=1pt] (sst.east |- 0,962.7) -- (661,962.7) -- (661,993);
\end{scope}

%================= OSC / TB =================
\node[blk,line width=1.2pt,minimum width=53pt,minimum height=22.5pt,inner sep=0] (spn) at (212,1111) {};\Lm{211.7,1110}{PINK NOISE}
\node[blk,line width=1.2pt,minimum width=53pt,minimum height=22.5pt,inner sep=0] (sosc) at (212,1154.3) {};\Lm{208.3,1153.3}{1kHz OSC}
\node[draw,fill=white,line width=1pt,minimum size=5pt,inner sep=0] (dis) at (211.7,1185.7) {};\fill (208.7,1182.7) rectangle (214.7,1185);
\Lm{213.3,1195.7}{Disable}
\SQ{tsel}{275,1133.3}\KN{ttr}{302.7,1133.3}{225}\Lm{302.7,1117.7}{TRIM}
\BTN{tosc}{474.3,1096.7}{16.7}{13.4}{4}\Lm{473.3,1080.7}{OSC/NOISE TO TB}
\BTN{ttalk}{474.3,1153.3}{16.7}{13.4}{4}\Lm{472.7,1138.3}{TALK TO TB}
\Ls{472.7,1110.7}{DIM}
\node[sumr] (tsum) at (526.7,1120.7) {+};
\draw[endj] (548.3,1120.7) -- (555,1120.7);\draw[-latex,wm] (555,1120.7) -- (559,1120.7);\Ls{564,1121}{TB}
\Lm{368.3,1115}{+48V}\node[draw,fill=black,minimum size=5.5pt,inner sep=0] (t48) at (370,1125) {};\fill[white] (368.7,1123.7) rectangle (371.3,1126.3);
\XLR{tx1}{370,1153.3}{22}\XLR{tx2}{370,1189}{22}
\Lm{352.7,1151.7}{1}\Lm{351.7,1187.3}{2}\Lm{342.3,1170.7}{TB MIC}
\AMP{tamp}{421.7}{1145}{1164}{436}
\KN{ttr2}{426.7,1128.3}{225}\Lm{425.7,1113.3}{TRIM}
\Ls{522.7,1193.3}{MONITOR DIM}
\coordinate (tmd) at (500,1195);
\BTN{tic}{655,1121.3}{16.7}{12.7}{6}\Lm{654,1105}{TALK TO INTERCOM}
\begin{scope}[on background layer]
\draw[dsht] (spn) -- (sosc);\draw[dsht] (sosc) -- (dis);
\draw[wt] (spn.east |- 0,1111.7) -- (275,1111.7) -- (tsel);
\draw[wt] (sosc.east |- 0,1154) -- (275,1154) -- (tsel);
\draw[wm] (tsel) -- (ttr);
\draw[wt] (ttr) -- (327.7,1133.3) -- (327.7,1096.7) -- (tosc);
\draw[wt] (tosc) -- (515,1096.7) -- (515,1113.3) -- (tsum);
\draw[wt] (ttalk) -- (515,1154.3) -- (515,1128.3) -- (tsum);
\draw[wm] (tsum) -- (548.3,1120.7);
\draw[wt] (t48) -- (tx1);\draw[dsht] (tx1) -- (tx2);
\draw[wt] (tx1.east |- 0,1154) -- (421.7,1154);\draw[wt] (tx1.east |- 0,1156.7) -- (421.7,1156.7);
\draw[wt] (tx2.east |- 0,1186) -- (406,1186) -- (406,1154);
\draw[wt] (tx2.east |- 0,1190) -- (410.7,1190) -- (410.7,1156.7);
\draw[wt] (ttr2) -- (426.7,1148);
\draw[wm] (tamp) -- (ttalk);
\JD{tj1}{445.7,1154.3}
\draw[wm] (tj1) -- (445.7,1174) -- (629.3,1174) -- (629.3,1121.7) -- (tic.west |- 0,1121.7);
\draw[dsh] (ttalk) -- (473.3,1195);
\draw[dsh] (473.3,1195) -- (tmd);
\end{scope}
\draw[-latex,wt] (473.3,1130) -- (473.3,1115);
\draw[dsh] (473.3,1137) -- (473.3,1131);
\draw[-latex,wm] (495,1195) -- (tmd);

%================= INTERCOM =================
\node[res] (r1) at (700.5,1121.3) {};\node[res] (r2) at (725.8,1121.3) {};\node[res] (r0) at (725.8,1114.7) {};\node[res] (r3) at (725.8,1139.3) {};
\draw[wm] (725,1115) -- (732,1110);
\Ls{722.3,1104}{SIDETONE}
\AMP{ica}{740}{1108.3}{1126.7}{754.3}
\KN{ict}{744.3,1092.3}{225}\Lm{744.3,1078.3}{TRIM}
\OC{763.7,1117.3}\SQ{ilis}{772.7,1117.3}\Lm{771.7,1104.3}{LISTEN}
\Ls{820.7,1115.7}{TO PHONES}
\node[circle,draw,fill=white,line width=.8pt,minimum size=5.5pt,inner sep=0] (ilamp) at (806,1139.3) {};
\foreach \a in {20,65,115,160,200,245,295,340}{\draw[line width=.3pt,draw=wgrey] ($(ilamp)+(\a:5.5)$) -- ($(ilamp)+(\a:8)$);}
\Ls{826,1138.3}{- LAMP}
\SQ{icall}{772.7,1164.3}\OC{764,1164.3}\Lm{770.7,1154}{CALL}
\XLR{ixlr}{712.7,1166.7}{22}\Ls{715.7,1151}{INTERCOM IN/OUT}
\Ls{704,1193.3}{MONITOR DIM}
\coordinate (imd) at (678.3,1195);\coordinate (iph) at (798.3,1117.3);
\begin{scope}[on background layer]
\draw[wm] (tic) -- (r1);\JD{ij1}{688.3,1121.3}
\draw[wm] (ij1) -- (688.3,1114.7) -- (r0);
\draw[wm] (r1) -- (r2);\JD{ij2}{712.7,1121.3}
\draw[wt] (ij2) -- (712.7,1139.3) -- (r3);
\draw[wm] (r2) -- (740,1121.3);\draw[wm] (r0) -- (740,1114.7);
\draw[wt] (r3) -- (ilamp);\JD{ij3}{771.7,1139.3}
\draw[wt] (ij3) -- (771.7,1149);
\draw[wt] (ict) -- (744.3,1110);
\draw[wm] (ica) -- (ilis);
\draw[dsh] (tic) -- (655,1195);
\end{scope}
\draw[-latex,wm] (ilis) -- (iph);
\draw[-latex,wt] (655,1195) -- (imd);
\end{tikzpicture}
\end{document}
